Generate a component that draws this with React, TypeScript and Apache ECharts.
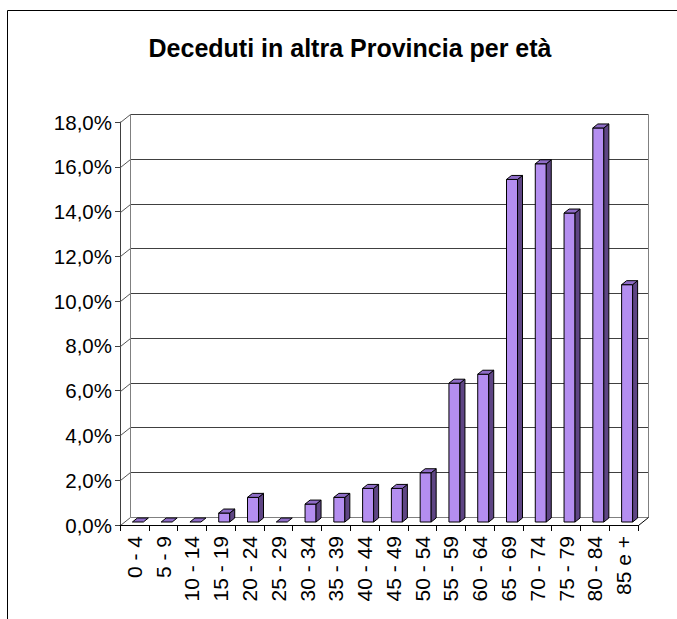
import React, { useEffect, useRef } from "react";
import * as echarts from "echarts";

const titleText = "Deceduti in altra Provincia per età";
const categories = [
  "0 - 4", "5 - 9", "10 - 14", "15 - 19", "20 - 24", "25 - 29",
  "30 - 34", "35 - 39", "40 - 44", "45 - 49", "50 - 54", "55 - 59",
  "60 - 64", "65 - 69", "70 - 74", "75 - 79", "80 - 84", "85 e +",
];
const values = [
  0, 0, 0, 0.4, 1.1, 0, 0.8, 1.1, 1.5, 1.5, 2.2, 6.2, 6.6, 15.3, 16.0, 13.8,
  17.6, 10.6,
];
const yTicks = [0, 2, 4, 6, 8, 10, 12, 14, 16, 18];

const FONT = "'Liberation Sans', Arial, sans-serif";
const DX = 10; // wall depth
const DY = 8;

export default function App() {
  const ref = useRef<HTMLDivElement>(null);
  useEffect(() => {
    if (!ref.current) return;
    const chart = echarts.init(ref.current, undefined, { renderer: "svg" });
    const crisp = (v: number) => Math.round(v) + 0.5;

    const wallsRender = (params: any, api: any) => {
      const cs = params.coordSys;
      const x0 = crisp(cs.x);
      const x1 = crisp(cs.x + cs.width);
      const children: any[] = [];
      const yTop = crisp(api.coord([0, yTicks[yTicks.length - 1]])[1]);
      const yBot = crisp(api.coord([0, 0])[1]);
      yTicks.forEach((t) => {
        const y = crisp(api.coord([0, t])[1]);
        children.push({
          type: "line",
          shape: { x1: x0, y1: y, x2: x0 + DX, y2: y - DY },
          style: { stroke: "#555555", lineWidth: 1 },
        });
        children.push({
          type: "line",
          shape: { x1: x0 + DX, y1: y - DY, x2: x1 + DX, y2: y - DY },
          style: { stroke: t === 0 ? "#808080" : "#404040", lineWidth: 1 },
        });
      });
      children.push({
        type: "line",
        shape: { x1: x0 + DX, y1: yTop - DY, x2: x0 + DX, y2: yBot - DY },
        style: { stroke: "#808080", lineWidth: 1 },
      });
      children.push({
        type: "line",
        shape: { x1: x1 + DX, y1: yTop - DY, x2: x1 + DX, y2: yBot - DY },
        style: { stroke: "#808080", lineWidth: 1 },
      });
      children.push({
        type: "line",
        shape: { x1: x1, y1: yBot, x2: x1 + DX, y2: yBot - DY },
        style: { stroke: "#000000", lineWidth: 1 },
      });
      return { type: "group", children };
    };

    const barRender = (params: any, api: any) => {
      const i = api.value(0);
      const v = api.value(1);
      const base = api.coord([i, 0]);
      const top = api.coord([i, v]);
      const cx = base[0] + 3.5;
      const hw = 5.5;
      const bd = 5;
      const bdy = 4;
      const yb = base[1] - 3;
      const yt = top[1] - 3;
      const l = cx - hw;
      const r = cx + hw;
      const stroke = "#000000";
      const children: any[] = [];
      if (v > 0) {
        children.push({
          type: "polygon",
          shape: { points: [[l, yt], [r, yt], [r, yb], [l, yb]] },
          style: { fill: "#b48ef0", stroke, lineWidth: 1 },
        });
        children.push({
          type: "polygon",
          shape: {
            points: [[r, yt], [r + bd, yt - bdy], [r + bd, yb - bdy], [r, yb]],
          },
          style: { fill: "#5e4584", stroke, lineWidth: 1 },
        });
      }
      children.push({
        type: "polygon",
        shape: {
          points: [[l, yt], [l + bd, yt - bdy], [r + bd, yt - bdy], [r, yt]],
        },
        style: { fill: "#8e6cc6", stroke, lineWidth: 1 },
      });
      return { type: "group", children };
    };

    chart.setOption({
      animation: false,
      backgroundColor: "#ffffff",
      title: {
        text: titleText,
        left: 350,
        top: 35,
        textAlign: "center",
        padding: 0,
        textStyle: {
          fontFamily: FONT,
          fontWeight: "bold",
          fontSize: 25,
          color: "#000000",
        },
      },
      graphic: [
        {
          type: "rect",
          shape: { x: 7.5, y: 10.5, width: 700, height: 700 },
          style: { fill: "none", stroke: "#000000", lineWidth: 1 },
          silent: true,
          z: -10,
        },
      ],
      grid: { left: 120, right: 39, top: 122, bottom: 94, containLabel: false },
      xAxis: {
        type: "category",
        data: categories,
        boundaryGap: true,
        axisLine: { show: true, lineStyle: { color: "#000000", width: 1 } },
        axisTick: {
          show: true,
          alignWithLabel: false,
          length: 6,
          lineStyle: { color: "#000000" },
        },
        axisLabel: {
          rotate: 90,
          margin: 11,
          interval: 0,
          padding: [7, 0, 0, 0],
          fontFamily: FONT,
          fontSize: 21,
          color: "#000000",
        },
        splitLine: { show: false },
        z: 5,
      },
      yAxis: {
        type: "value",
        min: 0,
        max: 18,
        interval: 2,
        axisLine: { show: true, lineStyle: { color: "#404040", width: 1 } },
        axisTick: { show: true, length: 5, lineStyle: { color: "#404040" } },
        axisLabel: {
          margin: 8,
          fontFamily: FONT,
          fontSize: 20.5,
          color: "#000000",
          formatter: (v: number) => v.toFixed(1).replace(".", ",") + "%",
        },
        splitLine: { show: false },
      },
      series: [
        {
          type: "custom",
          renderItem: wallsRender,
          data: [[0, 0]],
          z: 1,
          silent: true,
        },
        {
          type: "custom",
          renderItem: barRender,
          data: values.map((v, i) => [i, v]),
          z: 3,
        },
      ],
    });
    return () => chart.dispose();
  }, []);
  return (
    <div
      ref={ref}
      style={{ position: "fixed", left: 0, top: 0, width: 677, height: 619 }}
    />
  );
}
